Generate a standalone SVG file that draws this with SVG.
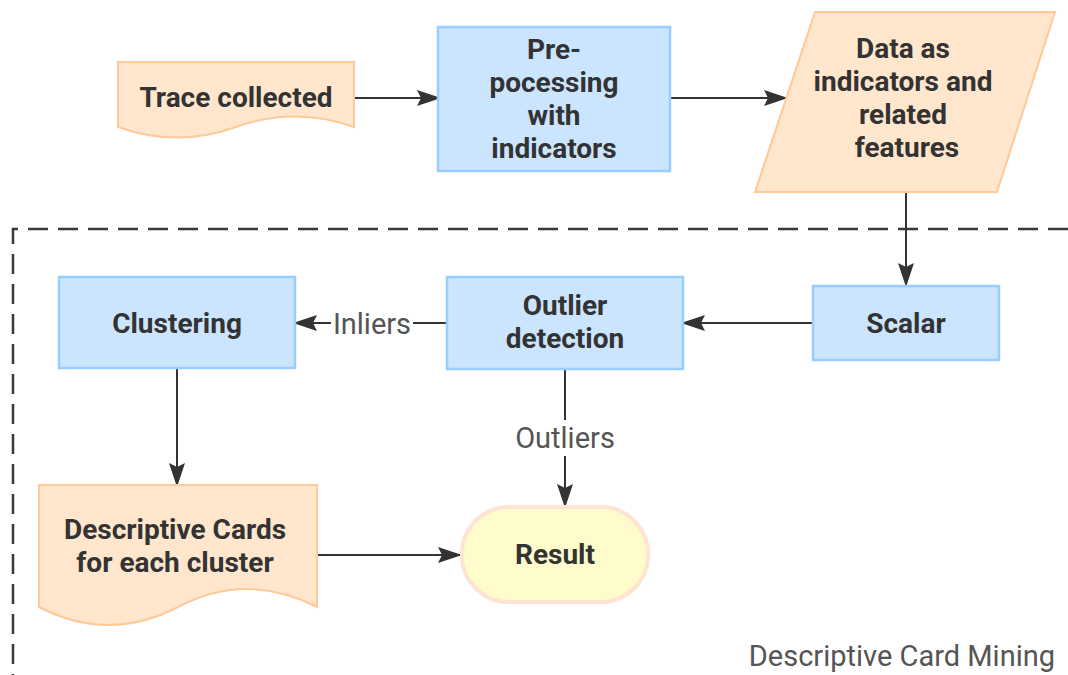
<svg xmlns="http://www.w3.org/2000/svg" width="1068" height="675" viewBox="0 0 1068 675">
  <style>
    .doc { fill: #ffe6cc; stroke: #ffc999; stroke-width: 2; }
    .proc { fill: #cce5ff; stroke: #99ccff; stroke-width: 2.5; }
    .term { fill: #fffccc; stroke: #ffe4d4; stroke-width: 4; }
    .t { font-family: Roboto, "Open Sans", sans-serif; font-weight: bold; font-size: 28px; fill: #333333; text-anchor: middle; }
    .lbl { font-family: Roboto, "Open Sans", sans-serif; font-size: 29px; fill: #555555; text-anchor: middle; }
    .edge { fill: none; stroke: #333333; stroke-width: 2; }
    .frame { fill: none; stroke: #3a3a3a; stroke-width: 2.5; stroke-dasharray: 20 10; }
  </style>
  <defs>
    <marker id="arrow" markerUnits="userSpaceOnUse" markerWidth="24" markerHeight="16" refX="23" refY="8" orient="auto">
      <path d="M0,0 L24,8 L0,16 L4,8 Z" fill="#333333"/>
    </marker>
  </defs>

  <rect width="1068" height="675" fill="#ffffff"/>

  <!-- container frame -->
  <g id="frame">
    <path class="frame" d="M1068,229 H13 V675"/>
    <text class="lbl" x="1055" y="666" style="text-anchor:end">Descriptive Card Mining</text>
  </g>

  <!-- connectors -->
  <g id="connectors">
    <path class="edge" d="M354,98 H440" marker-end="url(#arrow)"/>
    <path class="edge" d="M670,98 H787" marker-end="url(#arrow)"/>
    <path class="edge" d="M906,192 V286" marker-end="url(#arrow)"/>
    <path class="edge" d="M813,323 H682" marker-end="url(#arrow)"/>
    <path class="edge" d="M447,323 H294" marker-end="url(#arrow)"/>
    <rect x="331" y="307" width="82" height="34" fill="#ffffff"/>
    <text class="lbl" x="372" y="334">Inliers</text>
    <path class="edge" d="M565,369 V507" marker-end="url(#arrow)"/>
    <rect x="508" y="420" width="114" height="36" fill="#ffffff"/>
    <text class="lbl" x="565" y="448">Outliers</text>
    <path class="edge" d="M177,368 V486" marker-end="url(#arrow)"/>
    <path class="edge" d="M317,555 H461" marker-end="url(#arrow)"/>
  </g>

  <g id="trace">
    <path class="doc" d="M118,62 H354 V127 Q295,106 236,127 Q177,148 118,127 Z"/>
    <text class="t" x="236" y="107">Trace collected</text>
  </g>

  <g id="preprocessing">
    <rect class="proc" x="438" y="27" width="232" height="144"/>
    <text class="t" x="554" y="59">Pre-</text>
    <text class="t" x="554" y="92">pocessing</text>
    <text class="t" x="554" y="125">with</text>
    <text class="t" x="554" y="158">indicators</text>
  </g>

  <g id="data">
    <polygon class="doc" points="815,12 1055,12 997,192 755,192"/>
    <text class="t" x="903" y="58">Data as</text>
    <text class="t" x="903" y="91">indicators and</text>
    <text class="t" x="903" y="124">related</text>
    <text class="t" x="907" y="157">features</text>
  </g>

  <g id="scalar">
    <rect class="proc" x="813" y="286" width="186" height="74"/>
    <text class="t" x="906" y="333">Scalar</text>
  </g>

  <g id="outlier">
    <rect class="proc" x="447" y="277" width="236" height="92"/>
    <text class="t" x="565" y="315">Outlier</text>
    <text class="t" x="565" y="348">detection</text>
  </g>

  <g id="clustering">
    <rect class="proc" x="59" y="277" width="236" height="91"/>
    <text class="t" x="177" y="333">Clustering</text>
  </g>

  <g id="cards">
    <path class="doc" d="M39,485 H317 V607 Q247.5,571 178,607 Q108.5,643 39,607 Z"/>
    <text class="t" x="175" y="539">Descriptive Cards</text>
    <text class="t" x="175" y="572">for each cluster</text>
  </g>

  <g id="result">
    <rect class="term" x="462" y="507" width="186" height="95" rx="47" ry="47"/>
    <text class="t" x="555" y="564">Result</text>
  </g>
</svg>
